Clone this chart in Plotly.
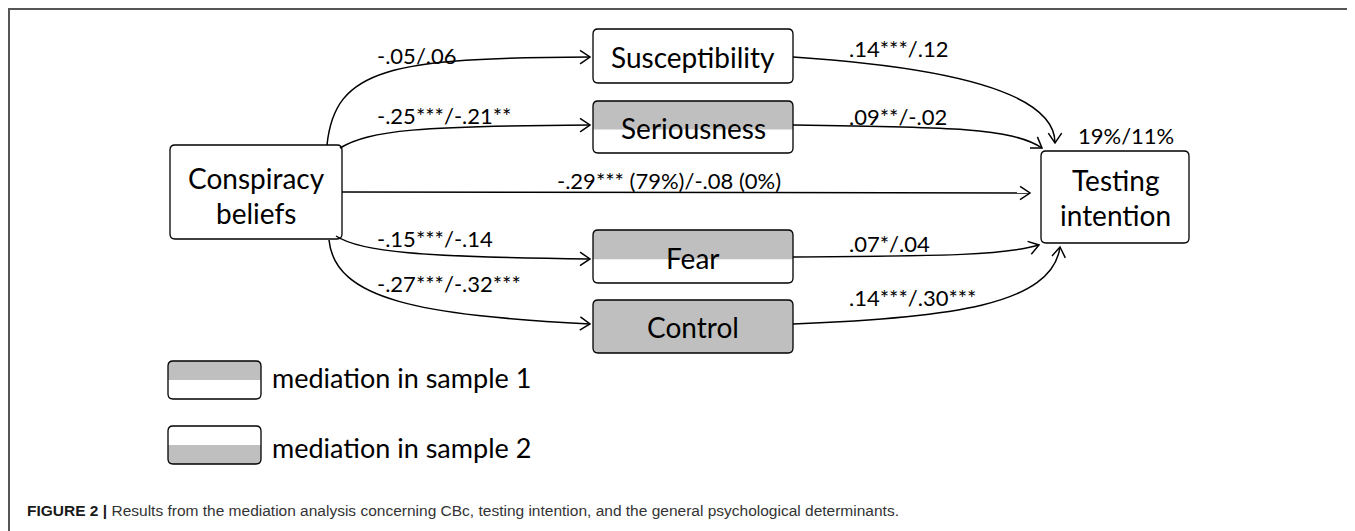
import math
import plotly.graph_objects as go

# ---------------- data (texts of the path diagram) ----------------
node_ids = ["cb", "sus", "ser", "fear", "ctrl", "ti"]
node_lines = [["Conspiracy", "beliefs"], ["Susceptibility"], ["Seriousness"],
              ["Fear"], ["Control"], ["Testing", "intention"]]
node_shading = ["none", "none", "top", "top", "full", "none"]
mediators = ["sus", "ser", "fear", "ctrl"]
a_paths = ["-.05/.06", "-.25***/-.21**", "-.15***/-.14", "-.27***/-.32***"]
b_paths = [".14***/.12", ".09**/-.02", ".07*/.04", ".14***/.30***"]
direct_path = "-.29*** (79%)/-.08 (0%)"
r_squared = "19%/11%"
legend_labels = ["mediation in sample 1", "mediation in sample 2"]
legend_shading = ["top", "bottom"]
caption_bold = "FIGURE 2 |"
caption_text = ("Results from the mediation analysis concerning CBc, testing intention, "
                "and the general psychological determinants.")

# ---------------- layout geometry (page pixel space) ----------------
W, H = 1355, 531
OFF = 8  # page offset of the plot div
GRAY = "#bfbfbf"
FONT = "Lato"
box_pos = {"cb": (170, 145, 342, 239), "sus": (593, 29, 793, 83),
           "ser": (593, 101, 793, 153), "fear": (593, 230, 793, 283),
           "ctrl": (593, 300, 793, 353), "ti": (1041, 151, 1189, 243)}
line_y = {"cb": [178, 213], "sus": [57], "ser": [128], "fear": [258],
          "ctrl": [327], "ti": [180, 215]}
a_curves = {"sus": [(327, 145), (335, 68), (390, 58), (590, 57)],
            "ser": [(340, 148), (370, 130), (420, 126), (590, 125)],
            "fear": [(336, 236), (360, 252), (420, 257), (590, 259)],
            "ctrl": [(329, 240), (335, 300), (420, 315), (590, 324)]}
b_curves = {"sus": [(793, 57), (960, 68), (1055, 95), (1055, 143)],
            "ser": [(793, 125), (950, 127), (1012, 128), (1042, 148)],
            "fear": [(793, 257), (950, 256), (1005, 255), (1039, 245)],
            "ctrl": [(793, 324), (950, 318), (1052, 305), (1060, 247)]}
a_label_xy = {"sus": (375, 55), "ser": (375, 115), "fear": (375, 238), "ctrl": (375, 283)}
b_label_xy = {"sus": (847, 48), "ser": (847, 116), "fear": (847, 243), "ctrl": (847, 297)}
direct_line = [(342, 192), (1030, 193)]
direct_label_xy = (555, 180)
r2_xy = (1126, 135)
legend_boxes = [(168, 361, 261, 399), (168, 426, 261, 464)]
legend_text_xy = [(270, 377), (270, 447)]
caption_xy = (25, 510)


def rrect(x0, y0, x1, y1, r=5):
    return (f"M{x0+r},{y0} L{x1-r},{y0} Q{x1},{y0} {x1},{y0+r} L{x1},{y1-r} "
            f"Q{x1},{y1} {x1-r},{y1} L{x0+r},{y1} Q{x0},{y1} {x0},{y1-r} "
            f"L{x0},{y0+r} Q{x0},{y0} {x0+r},{y0} Z")


def top_part(x0, y0, x1, ym, r=5):
    return (f"M{x0},{ym} L{x0},{y0+r} Q{x0},{y0} {x0+r},{y0} L{x1-r},{y0} "
            f"Q{x1},{y0} {x1},{y0+r} L{x1},{ym} Z")


def bottom_part(x0, ym, x1, y1, r=5):
    return (f"M{x0},{ym} L{x1},{ym} L{x1},{y1-r} Q{x1},{y1} {x1-r},{y1} "
            f"L{x0+r},{y1} Q{x0},{y1} {x0},{y1-r} Z")


def shaded(kind, x0, y0, x1, y1, frac):
    if kind == "full":
        return rrect(x0, y0, x1, y1)
    if kind == "top":
        return top_part(x0, y0, x1, y0 + (y1 - y0) * frac)
    if kind == "bottom":
        return bottom_part(x0, y0 + (y1 - y0) * (1 - frac), x1, y1)
    return None


def chevron(tip, frm, L=12, ang=34):
    dx, dy = tip[0] - frm[0], tip[1] - frm[1]
    th = math.atan2(dy, dx)
    pts = []
    for s in (-1, 1):
        a = th + math.pi + s * math.radians(ang)
        pts.append((tip[0] + L * math.cos(a), tip[1] + L * math.sin(a)))
    return (f"M{pts[0][0]:.1f},{pts[0][1]:.1f} L{tip[0]},{tip[1]} "
            f"L{pts[1][0]:.1f},{pts[1][1]:.1f}")


line_style = dict(color="black", width=1.5)
shapes = []
annotations = []

# frame
shapes.append(dict(type="path", path=f"M{OFF+1},{H+OFF} L{OFF+1},9 L{W+OFF},9",
                   line=dict(color="#555555", width=2), xref="x", yref="y"))

# node fills + outlines
for nid, shade in zip(node_ids, node_shading):
    x0, y0, x1, y1 = box_pos[nid]
    p = shaded(shade, x0, y0, x1, y1, 0.55)
    if p:
        shapes.append(dict(type="path", path=p, fillcolor=GRAY,
                           line=dict(width=0), xref="x", yref="y"))
    shapes.append(dict(type="path", path=rrect(x0, y0, x1, y1),
                       line=dict(color="black", width=1.3), xref="x", yref="y"))

# legend boxes
for (x0, y0, x1, y1), shade in zip(legend_boxes, legend_shading):
    shapes.append(dict(type="path", path=shaded(shade, x0, y0, x1, y1, 0.5),
                       fillcolor=GRAY, line=dict(width=0), xref="x", yref="y"))
    shapes.append(dict(type="path", path=rrect(x0, y0, x1, y1),
                       line=dict(color="black", width=1.3), xref="x", yref="y"))

# curved paths with open arrowheads
for curves in (a_curves, b_curves):
    for m in mediators:
        (p0, p1, p2, p3) = curves[m]
        shapes.append(dict(type="path",
                           path=f"M{p0[0]},{p0[1]} C{p1[0]},{p1[1]} {p2[0]},{p2[1]} {p3[0]},{p3[1]}",
                           line=line_style, xref="x", yref="y"))
        shapes.append(dict(type="path", path=chevron(p3, p2), line=line_style,
                           xref="x", yref="y"))
(d0, d1) = direct_line
shapes.append(dict(type="path", path=f"M{d0[0]},{d0[1]} L{d1[0]},{d1[1]}",
                   line=line_style, xref="x", yref="y"))
shapes.append(dict(type="path", path=chevron(d1, d0), line=line_style,
                   xref="x", yref="y"))

# node labels
node_font = dict(family=FONT, size=28, color="black")
for nid, lines in zip(node_ids, node_lines):
    x0, y0, x1, y1 = box_pos[nid]
    for txt, yy in zip(lines, line_y[nid]):
        annotations.append(dict(x=(x0 + x1) / 2, y=yy, text=txt, showarrow=False,
                                xanchor="center", yanchor="middle", font=node_font))

# coefficient labels
lab_font = dict(family=FONT, size=22, color="black")
for m, txt in zip(mediators, a_paths):
    x, y = a_label_xy[m]
    annotations.append(dict(x=x, y=y, text=txt, showarrow=False, xanchor="left",
                            yanchor="middle", font=lab_font))
for m, txt in zip(mediators, b_paths):
    x, y = b_label_xy[m]
    annotations.append(dict(x=x, y=y, text=txt, showarrow=False, xanchor="left",
                            yanchor="middle", font=lab_font))
annotations.append(dict(x=direct_label_xy[0], y=direct_label_xy[1], text=direct_path,
                        showarrow=False, xanchor="left", yanchor="middle", font=lab_font))
annotations.append(dict(x=r2_xy[0], y=r2_xy[1], text=r_squared, showarrow=False,
                        xanchor="center", yanchor="middle", font=lab_font))

# legend labels
for (x, y), txt in zip(legend_text_xy, legend_labels):
    annotations.append(dict(x=x, y=y, text=txt, showarrow=False, xanchor="left",
                            yanchor="middle",
                            font=dict(family=FONT, size=27, color="black")))

# caption
annotations.append(dict(x=caption_xy[0], y=caption_xy[1],
                        text=f"<b>{caption_bold}</b> <span style='color:#333333'>{caption_text}</span>",
                        showarrow=False, xanchor="left", yanchor="middle",
                        font=dict(family="Liberation Sans", size=15.5, color="#1a1a1a")))

fig = go.Figure()
cx = [(box_pos[n][0] + box_pos[n][2]) / 2 for n in node_ids]
cy = [(box_pos[n][1] + box_pos[n][3]) / 2 for n in node_ids]
fig.add_trace(go.Scatter(x=cx, y=cy, mode="markers", marker=dict(opacity=0),
                         hoverinfo="skip", showlegend=False))
fig.update_layout(width=W, height=H, margin=dict(l=0, r=0, t=0, b=0),
                  paper_bgcolor="white", plot_bgcolor="white",
                  xaxis=dict(range=[OFF, W + OFF], visible=False, fixedrange=True),
                  yaxis=dict(range=[H + OFF, OFF], visible=False, fixedrange=True),
                  shapes=shapes, annotations=annotations, showlegend=False)
fig.write_html("out.html")
